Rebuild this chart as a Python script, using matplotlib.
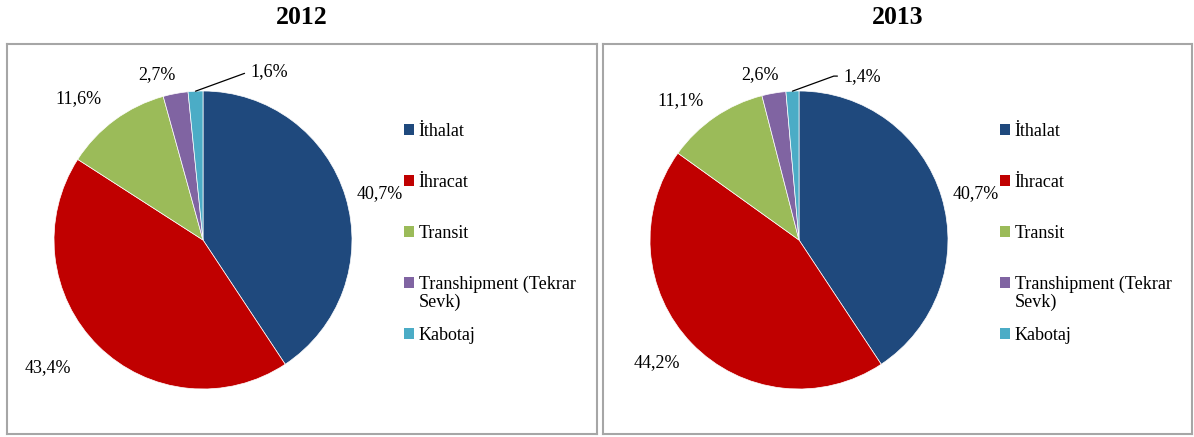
import numpy as np
import matplotlib.pyplot as plt
from matplotlib.patches import Patch

categories = ["İthalat", "İhracat", "Transit", "Transhipment (Tekrar\nSevk)", "Kabotaj"]
years = ["2012", "2013"]
shares_2012 = [40.7, 43.4, 11.6, 2.7, 1.6]
shares_2013 = [40.7, 44.2, 11.1, 2.6, 1.4]
colors = ["#1f497d", "#c00000", "#9bbb59", "#8064a2", "#4bacc6"]

plt.rcParams['font.family'] = ['Liberation Serif', 'DejaVu Serif']

W, H = 1194, 437
fig = plt.figure(figsize=(W / 100, H / 100), dpi=100)

# box positions in pixels: left, top, right, bottom
boxes = [(7, 44, 597, 434), (603, 44, 1192, 434)]
R = 149.0  # pie radius in px
cx_off, cy_off = 196, 196  # pie centre from box top-left

# label placement per panel: (radius factor, angle nudge in degrees)
lab_styles = [
    [(1.23, -2), (1.35, -6), (1.26, 5), (1.15, 5)],
    [(1.23, -2), (1.26, -3), (1.23, 6), (1.14, 3.5)],
]
kab_text_pos = [(0.315, 1.128), (0.295, 1.10)]

first_lines = [c.split("\n")[0] for c in categories]
legends = []

for k, ((l, t, r, b), year, vals) in enumerate(zip(boxes, years, [shares_2012, shares_2013])):
    ax = fig.add_axes([l / W, 1 - b / H, (r - l) / W, (b - t) / H])
    wedges, _ = ax.pie(vals, colors=colors, startangle=90, counterclock=False,
                       radius=1, center=(0, 0),
                       wedgeprops=dict(linewidth=0.5, edgecolor='white'))
    ax.set_xlim(-cx_off / R, (r - l - cx_off) / R)
    ax.set_ylim(-(b - t - cy_off) / R, cy_off / R)
    ax.set_aspect('auto')
    ax.set_frame_on(True)
    for s in ax.spines.values():
        s.set_visible(True)
        s.set_color('#a6a6a6')
        s.set_linewidth(1.5)
    ax.set_xticks([])
    ax.set_yticks([])

    for i, (w, v) in enumerate(zip(wedges, vals)):
        mid = np.deg2rad((w.theta1 + w.theta2) / 2)
        txt = f"{v:.1f}%".replace('.', ',')
        if i < 4:
            f, nudge = lab_styles[k][i]
            a = mid + np.deg2rad(nudge)
            ax.text(f * np.cos(a), f * np.sin(a), txt, ha='center', va='center', fontsize=13)
        else:
            x0, y0 = np.cos(mid), np.sin(mid)
            ax.annotate(txt, xy=(x0, y0), xytext=kab_text_pos[k], fontsize=13,
                        ha='left', va='center',
                        arrowprops=dict(arrowstyle='-', color='black', lw=0.9,
                                        shrinkA=2, shrinkB=0,
                                        connectionstyle='angle,angleA=0,angleB=20,rad=0'))

    handles = [Patch(facecolor=c, edgecolor='none') for c in colors]
    leg = ax.legend(handles, first_lines, loc='upper left',
                    bbox_to_anchor=((398 - 8) / (r - l), 1 - (116 - t) / (b - t)),
                    frameon=False, fontsize=13, handlelength=0.55, handleheight=0.55,
                    handletextpad=0.25, labelspacing=1.88, borderaxespad=0)
    legends.append(leg)

    fig.text((l + r) / 2 / W, 1 - 17 / H, year, ha='center', va='center',
             fontsize=18.5, fontweight='bold')

# second line of the wrapped entry, placed under its first line
fig.canvas.draw()
renderer = fig.canvas.get_renderer()
for leg in legends:
    for lt, full in zip(leg.get_texts(), categories):
        rest = full.split("\n")[1:]
        if rest:
            bb = lt.get_window_extent(renderer)
            fig.text(bb.x0 / W, (bb.y0 - 18) / H, "\n".join(rest),
                     ha='left', va='bottom', fontsize=13)

fig.savefig('out.png', dpi=100)
